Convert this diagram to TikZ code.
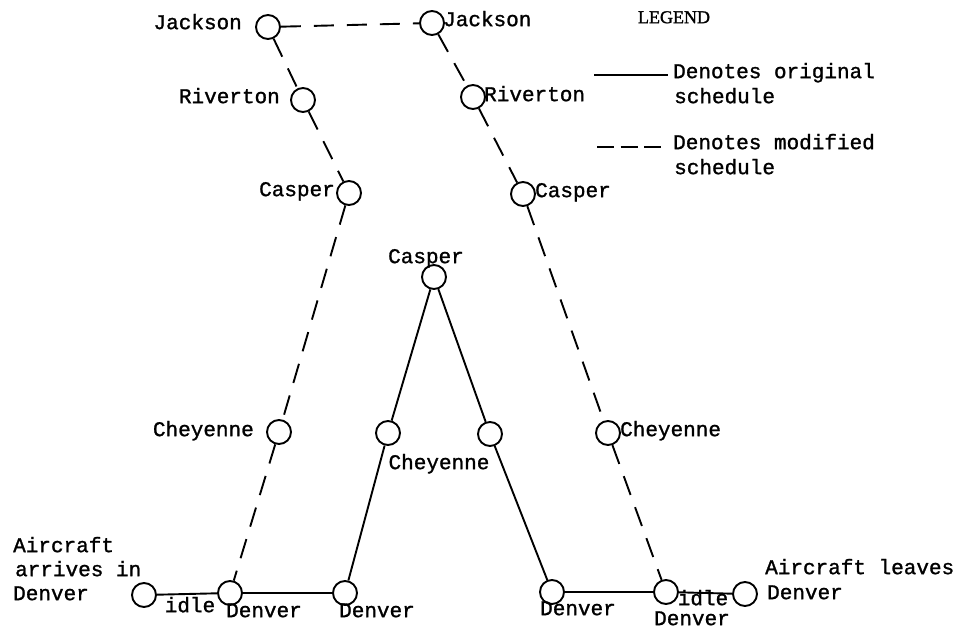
\documentclass[tikz,border=0pt]{standalone}
\usepackage{fontspec}
\newfontfamily\twfont{Liberation Mono}[FakeBold=1.2]
\newfontfamily\legfont{Liberation Serif}[FakeBold=1.5]
\begin{document}
\begin{tikzpicture}[x=1pt,y=-1pt,
 stop/.style={circle,draw,line width=1.9pt,minimum size=24pt,inner sep=0pt},
 orig/.style={line width=1.9pt},
 modi/.style={line width=1.9pt,dash pattern=on 20pt off 13pt},
 lbl/.style={font=\twfont\fontsize{21}{25}\selectfont,inner sep=0pt},
]
\useasboundingbox (0,0) rectangle (956,631);
% stops
\node[stop] (jl) at (268,27) {};
\node[stop] (rl) at (303,100) {};
\node[stop] (cl) at (349,193) {};
\node[stop] (hl) at (279,432) {};
\node[stop] (dl) at (230,593) {};
\node[stop] (jr) at (432,23) {};
\node[stop] (rr) at (473,97) {};
\node[stop] (cr) at (523,194) {};
\node[stop] (hr) at (608,433) {};
\node[stop] (dr) at (666,592) {};
\node[stop] (arr) at (144,595) {};
\node[stop] (d2) at (345,593) {};
\node[stop] (cm) at (434,277) {};
\node[stop] (hml) at (388,433) {};
\node[stop] (hmr) at (490,434) {};
\node[stop] (d3) at (552,592) {};
\node[stop] (lv) at (745,594) {};
% modified schedule
\draw[modi] (jl) -- (jr);
\draw[modi] (jl) -- (rl);
\draw[modi] (rl) -- (cl);
\draw[modi] (cl) -- (hl);
\draw[modi] (hl) -- (dl);
\draw[modi] (jr) -- (rr);
\draw[modi] (rr) -- (cr);
\draw[modi] (cr) -- (hr);
\draw[modi] (hr) -- (dr);
% original schedule
\draw[orig] (arr) -- (dl);
\draw[orig] (dl) -- (d2);
\draw[orig] (d2) -- (hml);
\draw[orig] (hml) -- (cm);
\draw[orig] (cm) -- (hmr);
\draw[orig] (hmr) -- (d3);
\draw[orig] (d3) -- (dr);
\draw[orig] (dr) -- (lv);
% labels
\node[lbl,anchor=mid east] (tjl) at (242,27) {Jackson};
\node[lbl,anchor=mid west] (tjr) at (443,24) {Jackson};
\node[lbl,anchor=mid east] (trl) at (280,101) {Riverton};
\node[lbl,anchor=mid west] (trr) at (484,99) {Riverton};
\node[lbl,anchor=mid east] (tcl) at (335,194) {Casper};
\node[lbl,anchor=mid west] (tcr) at (535,195) {Casper};
\node[lbl,anchor=mid] (tcm) at (426,261) {Casper};
\node[lbl,anchor=mid east] (thl) at (254,434) {Cheyenne};
\node[lbl,anchor=mid] (thm) at (439,467) {Cheyenne};
\node[lbl,anchor=mid west] (thr) at (620,434) {Cheyenne};
\node[lbl,anchor=mid west] (tarr1) at (13,550) {Aircraft};
\node[lbl,anchor=mid west] (tarr2) at (15,574) {arrives in};
\node[lbl,anchor=mid west] (tarr3) at (13,598) {Denver};
\node[lbl,anchor=mid] (tidl) at (190,610) {idle};
\node[lbl,anchor=mid] (tdl) at (264,615) {Denver};
\node[lbl,anchor=mid] (td2) at (377,615) {Denver};
\node[lbl,anchor=mid] (td3) at (578,613) {Denver};
\node[lbl,anchor=mid] (tidr) at (703,603) {idle};
\node[lbl,anchor=mid] (tdr) at (692,623) {Denver};
\node[lbl,anchor=mid west] (tlv1) at (765,572) {Aircraft leaves};
\node[lbl,anchor=mid west] (tlv2) at (767,597) {Denver};
% legend
\node[font=\legfont\fontsize{18}{20}\selectfont,inner sep=0pt,anchor=mid] (leg) at (674,21) {LEGEND};
\coordinate (ls1) at (594,75);
\coordinate (ls2) at (668,75);
\coordinate (lm1) at (597,147);
\coordinate (lm2) at (661,147);
\draw[orig] (ls1) -- (ls2);
\draw[line width=1.9pt,dash pattern=on 17pt off 6.5pt] (lm1) -- (lm2);
\node[lbl,anchor=mid west] (tls1) at (673,76) {Denotes original};
\node[lbl,anchor=mid west] (tls2) at (674,101) {schedule};
\node[lbl,anchor=mid west] (tlm1) at (673,147) {Denotes modified};
\node[lbl,anchor=mid west] (tlm2) at (674,172) {schedule};
\end{tikzpicture}
\end{document}
